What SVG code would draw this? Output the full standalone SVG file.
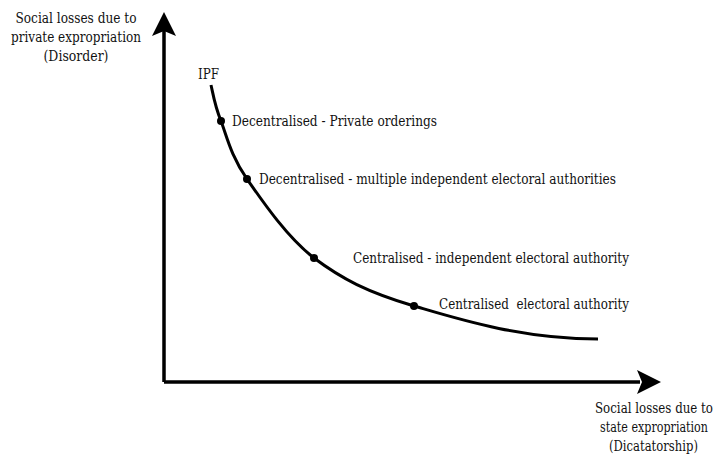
<svg xmlns="http://www.w3.org/2000/svg" width="716" height="455" viewBox="0 0 716 455">
<style>
.t{font-family:"DejaVu Serif","Liberation Serif",serif;font-size:14px;fill:#111}
.m{text-anchor:middle}
.e{text-anchor:end}
.ax{stroke:#000;stroke-width:3.5;fill:none}
.c{stroke:#000;stroke-width:3;fill:none}
.dot{fill:#000}
</style>
<rect width="716" height="455" fill="#fff"/>
<g id="connectors">
<path class="ax" d="M164,382 V30 M164,382 H640"/>
<polygon points="164,12 176,36 164,31 152,36" fill="#000"/>
<polygon points="661,382 637,370 642,382 637,394" fill="#000"/>
<path id="ipf-curve" class="c" d="M211,85 C212.5,91 214.5,105 221,121 C227,137 231,156 247,179 C263,202 287,237 314,258 C342,279 366.8,291.8 414,306 C455,318 520,339 598,339"/>
</g>
<g id="y-label">
<text class="t m" x="76" y="23" textLength="121" lengthAdjust="spacingAndGlyphs">Social losses due to</text>
<text class="t m" x="76" y="42" textLength="130" lengthAdjust="spacingAndGlyphs">private expropriation</text>
<text class="t m" x="76" y="61" textLength="65" lengthAdjust="spacingAndGlyphs">(Disorder)</text>
</g>
<g id="x-label">
<text class="t e" x="713" y="413" textLength="118" lengthAdjust="spacingAndGlyphs">Social losses due to</text>
<text class="t e" x="708" y="432" textLength="108" lengthAdjust="spacingAndGlyphs">state expropriation</text>
<text class="t e" x="698" y="451" textLength="89" lengthAdjust="spacingAndGlyphs">(Dicatatorship)</text>
</g>
<g id="ipf"><text class="t" x="198" y="79" textLength="21" lengthAdjust="spacingAndGlyphs">IPF</text></g>
<g id="p1"><circle class="dot" cx="221" cy="121" r="4"/><text class="t" x="232" y="126" textLength="205" lengthAdjust="spacingAndGlyphs">Decentralised - Private orderings</text></g>
<g id="p2"><circle class="dot" cx="247" cy="179" r="4"/><text class="t" x="259" y="184" textLength="357" lengthAdjust="spacingAndGlyphs">Decentralised - multiple independent electoral authorities</text></g>
<g id="p3"><circle class="dot" cx="314" cy="258" r="4"/><text class="t" x="353" y="263" textLength="276" lengthAdjust="spacingAndGlyphs">Centralised - independent electoral authority</text></g>
<g id="p4"><circle class="dot" cx="414" cy="306" r="4"/><text class="t" x="439" y="309" textLength="190" lengthAdjust="spacingAndGlyphs" xml:space="preserve">Centralised  electoral authority</text></g>
</svg>
